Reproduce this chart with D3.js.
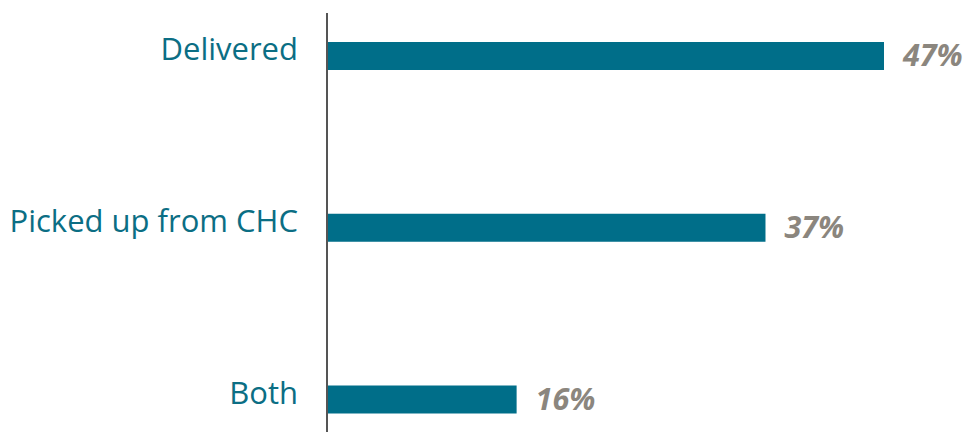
<!DOCTYPE html>
<html>
<head>
<meta charset="utf-8">
<script src="https://cdn.jsdelivr.net/npm/d3@7"></script>
<style>
  html, body { margin: 0; padding: 0; background: #fff; }
  svg { display: block; }
</style>
</head>
<body>
<div id="chart"></div>
<script>
var categories = ["Delivered", "Picked up from CHC", "Both"];
var values = [47, 37, 16];
var valueLabels = ["47%", "37%", "16%"];

var w = 969,
    h = 432;

var svg = d3.select("#chart")
    .append("svg")
    .attr("width", w)
    .attr("height", h);

var x = d3.scaleLinear().domain([0, 47]).range([327, 884]);
var y = d3.scalePoint().domain(categories).range([56, 399.5]);
var barH = 28;

var data = categories.map(function (c, i) {
    return { cat: c, value: values[i], label: valueLabels[i] };
});

svg.selectAll(".bar")
    .data(data)
    .enter().append("rect")
    .attr("class", "bar")
    .attr("x", x(0))
    .attr("y", function (d) { return y(d.cat) - barH / 2; })
    .attr("width", function (d) { return x(d.value) - x(0); })
    .attr("height", barH)
    .attr("fill", "#006e89");

// left axis line, no ticks
svg.append("line")
    .attr("x1", 327).attr("x2", 327)
    .attr("y1", 13).attr("y2", h)
    .attr("stroke", "#555")
    .attr("stroke-width", 2);

svg.selectAll(".cat")
    .data(data)
    .enter().append("text")
    .attr("class", "cat")
    .attr("x", 298)
    .attr("y", function (d) { return y(d.cat) + 4; })
    .attr("text-anchor", "end")
    .style("font", "31px 'Open Sans', sans-serif")
    .style("fill", "#0b6e84")
    .text(function (d) { return d.cat; });

svg.selectAll(".val")
    .data(data)
    .enter().append("text")
    .attr("class", "val")
    .attr("x", function (d) { return x(d.value) + 19; })
    .attr("y", function (d) { return y(d.cat) + 10; })
    .style("font", "italic bold 30.5px 'Open Sans', sans-serif")
    .style("fill", "#8b867e")
    .text(function (d) { return d.label; });
</script>
</body>
</html>
